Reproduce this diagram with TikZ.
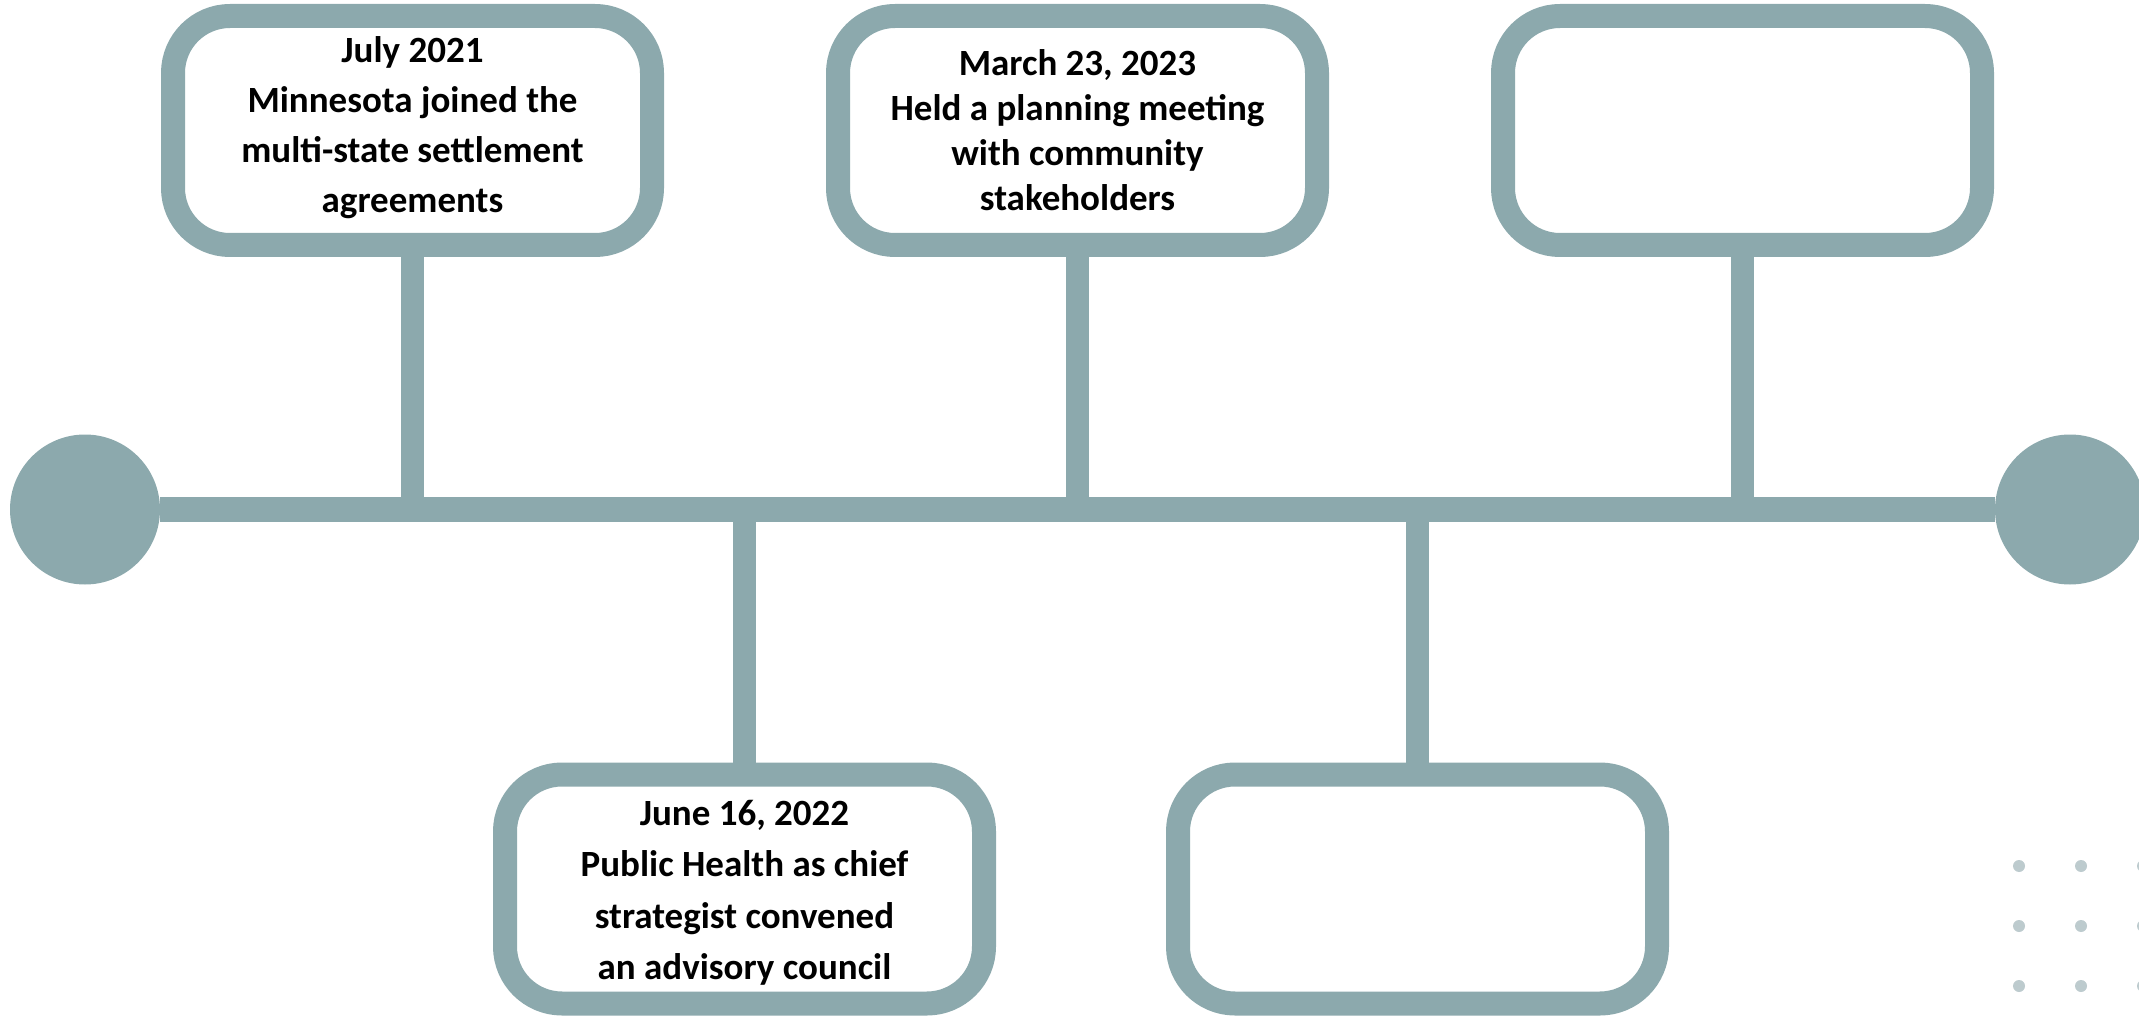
\documentclass[tikz,border=0pt]{standalone}
\usepackage{fontspec}
\setmainfont{Carlito}
\definecolor{sage}{HTML}{8CA9AD}
\definecolor{dotgray}{HTML}{BDCBCE}
\begin{document}
\begin{tikzpicture}[x=1pt, y=-1pt, line join=round,
	box/.style={draw=sage, fill=white, line width=24pt, rounded corners=57pt, minimum width=479pt, minimum height=229pt, inner sep=0pt, outer sep=0pt},
	ball/.style={circle, fill=sage, minimum size=150pt, inner sep=0pt, outer sep=0pt},
	stem/.style={draw=sage, line width=23pt},
	note/.style={align=center, font=\bfseries\fontsize{37}{#1}\selectfont},
	note/.default=50]
				\useasboundingbox (0,0) rectangle (2139,1016);
				\def\ay{509.5}
				\node[ball] (L) at (85,\ay) {};
				\node[ball] (R) at (2070,\ay) {};
				\draw[sage, line width=25pt] (L) -- (R);
				\foreach \i in {0,1,2} \foreach \j in {0,1,2} \fill[dotgray] (2019+62*\i,866+60*\j) circle(6);
				\foreach \hop/\x in {b1/412.5, b2/1077.5, b3/1742.5} {
					\node[box] (\hop) at (\x,130.5) {};
					\draw[stem] (\hop.south) -- (\hop.south |- L.center);
				}
				\foreach \hop/\x in {b4/744.5, b5/1417.5} {
					\node[box] (\hop) at (\x,889) {};
					\draw[stem] (\hop.north) -- (\hop.north |- L.center);
				}
				\node[note] (t1) at (412.5,128) {July 2021\\Minnesota joined the\\multi-state settlement\\agreements};
				\node[note=45] (t2) at (1077.5,130) {March 23, 2023\\Held a planning meeting\\with community\\stakeholders};
				\node[note=51.5] (t4) at (744.5,893) {June 16, 2022\\Public Health as chief\\strategist convened\\an advisory council};
			\end{tikzpicture}
\end{document}
